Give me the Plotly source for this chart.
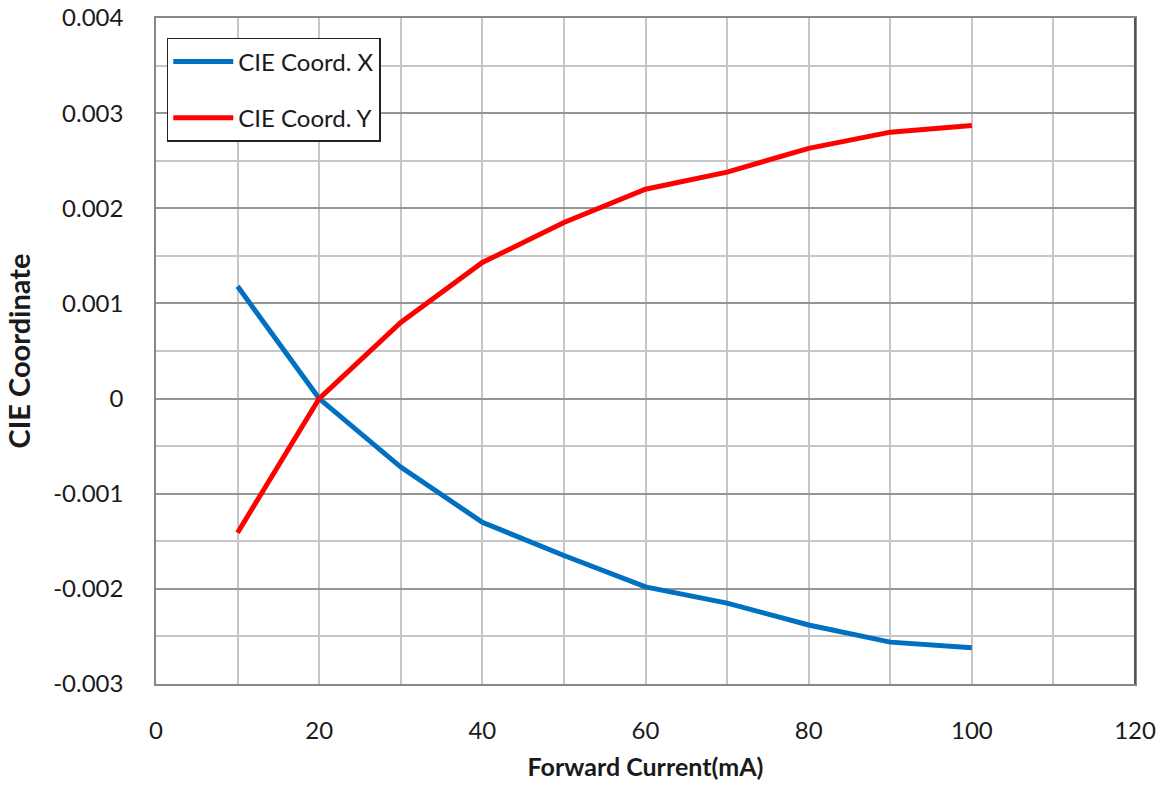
import plotly.graph_objects as go

current = [10, 20, 30, 40, 50, 60, 70, 80, 90, 100]
cie_x = [0.00118, 0.0, -0.00072, -0.00130, -0.00165, -0.00198, -0.00215, -0.00238, -0.00256, -0.00262]
cie_y = [-0.00141, 0.0, 0.00080, 0.00143, 0.00185, 0.00220, 0.00238, 0.00263, 0.00280, 0.00287]

x_ticks = [0, 20, 40, 60, 80, 100, 120]
y_ticks = [-0.003, -0.002, -0.001, 0, 0.001, 0.002, 0.003, 0.004]
y_tick_labels = ["-0.003", "-0.002", "-0.001", "0", "0.001", "0.002", "0.003", "0.004"]

FONT = "Lato, 'Open Sans', sans-serif"

fig = go.Figure()
fig.add_trace(go.Scatter(x=current, y=cie_x, mode="lines", name="CIE Coord. X",
                         line=dict(color="#0070C0", width=5), legendgroup="a"))
fig.add_trace(go.Scatter(x=current, y=cie_y, mode="lines", name="CIE Coord. Y",
                         line=dict(color="#FF0000", width=5), legendgroup="b"))

fig.update_layout(
    width=1167, height=787,
    margin=dict(l=156, r=32, t=18, b=103, autoexpand=False),
    paper_bgcolor="white", plot_bgcolor="white",
    font=dict(family=FONT, size=24, color="#1a1a1a"),
    showlegend=True,
    legend=dict(x=0.011, y=0.97, xanchor="left", yanchor="top",
                bordercolor="#222", borderwidth=1.5, bgcolor="white",
                font=dict(size=24, color="#1a1a1a"), tracegroupgap=22,
                itemwidth=60),
    xaxis=dict(range=[0, 120], tickvals=x_ticks, ticktext=[str(v) for v in x_ticks],
               showgrid=True, gridcolor="#c6c6c6", gridwidth=1.5,
               minor=dict(dtick=10, showgrid=True, gridcolor="#c6c6c6", gridwidth=1.5),
               showline=True, linecolor="#888", linewidth=1.5, mirror=True,
               ticks="", zeroline=False, ticklabelstandoff=24, automargin=False,
               title=dict(text="<b>Forward Current(mA)</b>", font=dict(size=25), standoff=16)),
    yaxis=dict(range=[-0.003, 0.004], tickvals=y_ticks, ticktext=y_tick_labels,
               showgrid=True, gridcolor="#959595", gridwidth=1.5,
               minor=dict(dtick=0.0005, showgrid=True, gridcolor="#c6c6c6", gridwidth=1.5),
               showline=True, linecolor="#888", linewidth=1.5, mirror=True,
               ticks="", zeroline=False, ticklabelstandoff=26, automargin=False,
               title=dict(text="<b>CIE Coordinate</b>", font=dict(size=29), standoff=14)),
)
fig.add_shape(type="line", xref="paper", yref="paper", x0=1, x1=1, y0=0, y1=1,
              line=dict(color="#555", width=2))

fig.write_html("out.html")
